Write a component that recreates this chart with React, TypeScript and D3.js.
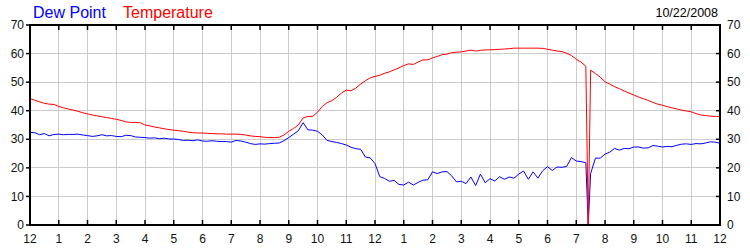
import React from "react";
import * as d3 from "d3";

// sampling clock: minutes after midnight (10-min readings, plus one extra reading at 19:25)
const minutes: number[] = [...d3.range(0, 1170, 10), 1165, ...d3.range(1170, 1441, 10)].sort((a, b) => a - b);

const temperature: number[] = [
  44.2, 43.7, 43.1, 42.6, 42.3, 42.2,
  41.5, 41.0, 40.6, 40.2, 39.8, 39.3,
  38.9, 38.5, 38.2, 37.9, 37.6, 37.3,
  37.0, 36.6, 36.1, 35.9, 35.9, 35.8,
  35.0, 34.7, 34.3, 34.0, 33.7, 33.4,
  33.2, 33.0, 32.8, 32.5, 32.3, 32.2,
  32.2, 32.1, 32.0, 31.9, 31.9, 31.8,
  31.8, 31.8, 31.7, 31.5, 31.2, 31.0,
  30.9, 30.7, 30.6, 30.6, 30.7, 31.5,
  32.8, 33.8, 35.0, 37.5, 38.0, 38.0,
  39.5, 41.5, 42.8, 43.5, 44.7, 46.2,
  47.2, 47.0, 47.9, 49.3, 50.5, 51.5,
  52.0, 52.4, 53.1, 53.6, 54.3, 55.0,
  55.8, 56.4, 56.2, 57.0, 57.8, 57.8,
  58.5, 59.0, 59.6, 59.8, 60.3, 60.5,
  60.6, 60.9, 61.2, 60.9, 61.1, 61.3,
  61.3, 61.4, 61.5, 61.6, 61.7, 61.9,
  61.9, 61.9, 61.9, 61.9, 61.9, 61.8,
  61.5, 61.2, 60.9, 60.7, 60.1, 59.3,
  58.0, 57.0, 55.6, 0, 54.2, 53.0, 51.8,
  50.1, 49.3, 48.4, 47.7, 46.9, 46.2,
  45.5, 44.8, 44.2, 43.6, 42.9, 42.3,
  41.9, 41.4, 41.0, 40.6, 40.2, 39.9,
  39.6, 39.0, 38.5, 38.3, 38.1, 38.0,
  38.0,
];

const dewPoint: number[] = [
  32.4, 32.3, 31.6, 32.0, 31.2, 31.7,
  31.8, 31.6, 31.7, 31.7, 31.8, 31.5,
  31.3, 31.0, 31.2, 31.6, 31.2, 31.3,
  31.0, 30.9, 31.4, 31.3, 30.8, 30.7,
  30.6, 30.4, 30.5, 30.2, 30.4, 30.1,
  30.1, 29.9, 29.6, 29.7, 29.5, 29.8,
  29.4, 29.3, 29.5, 29.3, 29.2, 29.2,
  29.0, 29.6, 29.4, 29.0, 28.5, 28.2,
  28.4, 28.3, 28.5, 28.6, 28.7, 29.5,
  30.6, 31.8, 33.0, 35.8, 33.3, 33.2,
  32.8, 31.5, 29.6, 29.2, 28.9, 28.5,
  28.0, 27.2, 26.7, 26.5, 23.8, 23.5,
  21.5, 16.9, 16.3, 15.3, 15.6, 14.2,
  14.0, 15.0, 14.0, 14.9, 15.7, 15.8,
  18.6, 18.0, 18.6, 18.7, 17.2, 15.1,
  15.3, 14.5, 16.8, 13.8, 17.8, 14.8,
  16.2, 15.4, 16.9, 16.0, 16.8, 16.4,
  17.8, 18.9, 16.0, 18.6, 16.4, 19.0,
  20.4, 19.1, 20.3, 20.2, 20.5, 23.6,
  22.4, 22.2, 21.8, 0, 18.0, 23.4, 23.4,
  24.8, 25.5, 26.8, 26.2, 26.8, 26.7,
  27.3, 27.3, 26.9, 27.0, 27.8, 27.6,
  27.3, 27.5, 27.4, 27.9, 28.3, 28.4,
  28.2, 28.5, 28.4, 28.7, 29.1, 29.0,
  28.6,
];

const hourTicks: number[] = d3.range(0, 25);
const hourLabels: string[] = [
  "12", "1", "2", "3", "4", "5", "6", "7", "8", "9", "10", "11",
  "12", "1", "2", "3", "4", "5", "6", "7", "8", "9", "10", "11", "12",
];
const yTicks: number[] = [0, 10, 20, 30, 40, 50, 60, 70];
const seriesNames = ["Dew Point", "Temperature"];
const seriesColors = ["#0000ff", "#ff0000"];
const dateLabel = "10/22/2008";

const W = 750, H = 250;
const L = 30, R = 720, T = 25, B = 225;
const FONT = "'Liberation Sans', Arial, sans-serif";

export default function App() {
  const x = d3.scaleLinear().domain([0, 24]).range([L, R]);
  const y = d3.scaleLinear().domain([0, 70]).range([B, T]);
  const line = (vals: number[]) =>
    d3.line<number>().x((_, i) => x(minutes[i] / 60)).y((v) => y(v))(vals) || "";

  return (
    <svg width={W} height={H} style={{ position: "absolute", left: 0, top: 0, background: "#fff" }} fontFamily={FONT}>
      <rect x={0} y={0} width={W} height={H} fill="#fff" />
      {/* grid */}
      {hourTicks.slice(1, -1).map((h) => (
        <line key={"gx" + h} x1={x(h)} x2={x(h)} y1={T} y2={B} stroke="#cccccc" strokeWidth={1} shapeRendering="crispEdges" />
      ))}
      {yTicks.slice(1, -1).map((v) => (
        <line key={"gy" + v} x1={L} x2={R} y1={y(v)} y2={y(v)} stroke="#cccccc" strokeWidth={1} shapeRendering="crispEdges" />
      ))}
      {/* series */}
      <path d={line(dewPoint)} fill="none" stroke={seriesColors[0]} strokeWidth={1} />
      <path d={line(temperature)} fill="none" stroke={seriesColors[1]} strokeWidth={1} />
      {/* frame */}
      <rect x={L} y={T} width={R - L} height={B - T} fill="none" stroke="#000" strokeWidth={2} />
      {/* ticks top / bottom */}
      {hourTicks.slice(1, -1).map((h) => (
        <g key={"t" + h}>
          <line x1={x(h)} x2={x(h)} y1={T} y2={T + 5} stroke="#000" strokeWidth={1.5} />
          <line x1={x(h)} x2={x(h)} y1={B} y2={B - 5} stroke="#000" strokeWidth={1.5} />
        </g>
      ))}
      {yTicks.map((v) => (
        <g key={"yt" + v}>
          <line x1={L - 4} x2={L} y1={y(v)} y2={y(v)} stroke="#000" strokeWidth={1.5} />
          <line x1={R - 4} x2={R} y1={y(v)} y2={y(v)} stroke="#000" strokeWidth={1.5} />
          <text x={L - 6} y={y(v)} dy="0.35em" textAnchor="end" fontSize={12} fill="#111">{v}</text>
          <text x={R + 7} y={y(v)} dy="0.35em" textAnchor="start" fontSize={12} fill="#111">{v}</text>
        </g>
      ))}
      {hourTicks.map((h, i) => (
        <text key={"xl" + h} x={x(h)} y={243} textAnchor="middle" fontSize={12} fill="#111">{hourLabels[i]}</text>
      ))}
      {/* legend */}
      <text x={33} y={18} fontSize={16} fill={seriesColors[0]}>{seriesNames[0]}</text>
      <text x={123} y={18} fontSize={16} fill={seriesColors[1]}>{seriesNames[1]}</text>
      <text x={718} y={17} fontSize={12.5} textAnchor="end" fill="#000">{dateLabel}</text>
    </svg>
  );
}
